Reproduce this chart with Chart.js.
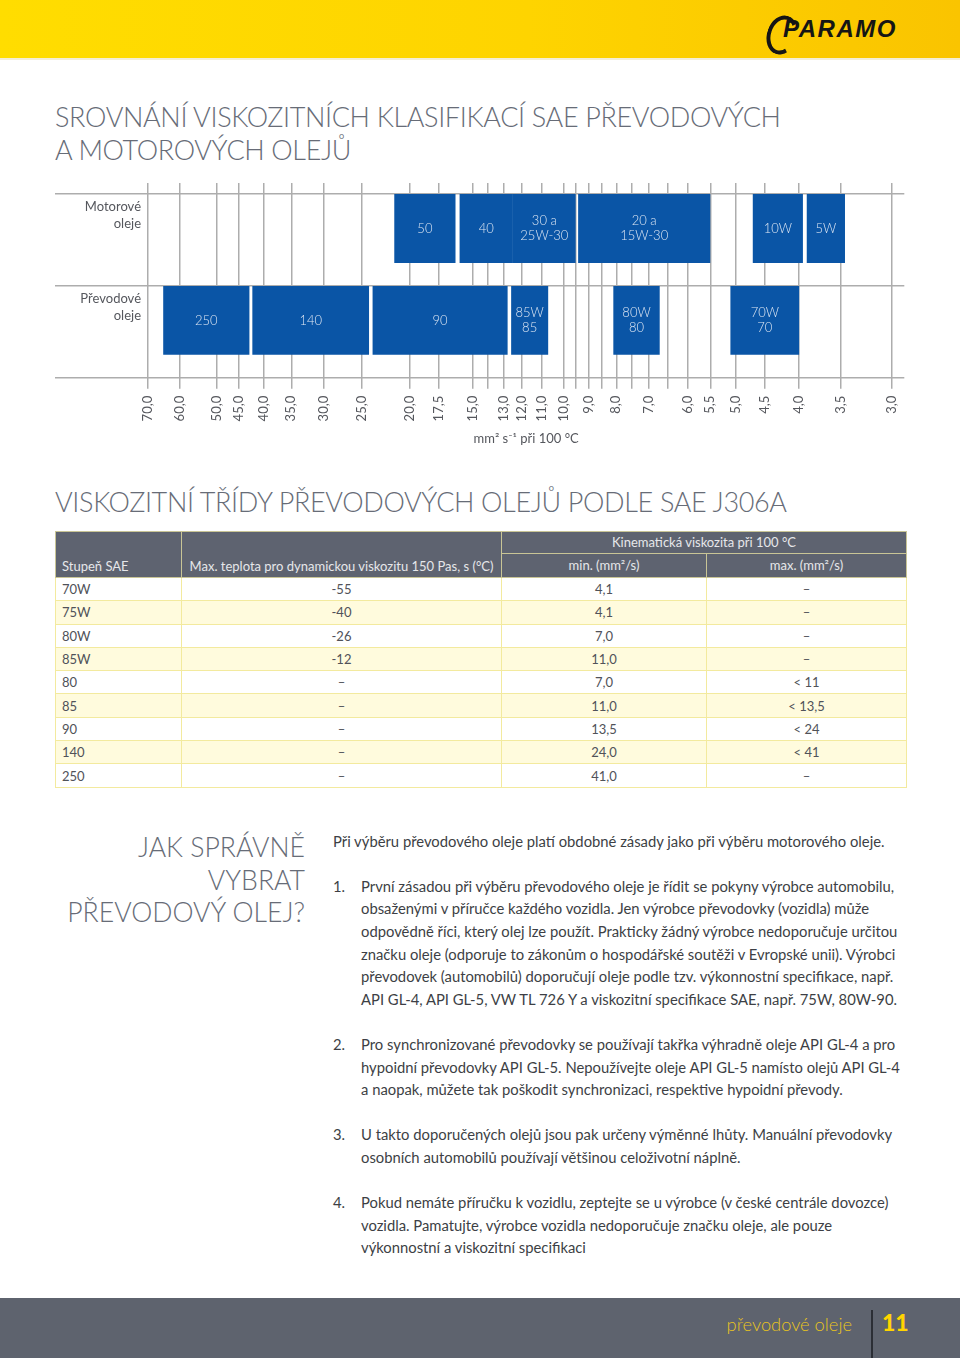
<!DOCTYPE html>
<html lang="cs">
<head>
<meta charset="utf-8">
<title>Srovnání viskozitních klasifikací SAE převodových a motorových olejů</title>
<script src="https://cdn.jsdelivr.net/npm/chart.js@4.4.1/dist/chart.umd.min.js"></script>
<style>
  html, body { margin: 0; padding: 0; }
  body { width: 960px; height: 1358px; position: relative; overflow: hidden; background: #fff; font-family: Lato, "Open Sans", sans-serif; color: #45474d; }
  .band { position: absolute; left: 0; top: 0; width: 960px; height: 58px; background: linear-gradient(90deg, #ffdd00 0%, #fed400 55%, #fac400 100%); border-bottom: 2px solid #f3eed8; }
  .logo-ring { position: absolute; left: 767px; top: 15px; width: 22px; height: 32px; border: 4px solid #151515; border-right-color: transparent; border-radius: 50%; transform: rotate(18deg); }
  .logo { position: absolute; left: 783px; top: 14px; font: italic 900 24px/30px "Liberation Sans", Arial, sans-serif; letter-spacing: 1.5px; color: #151515; }
  .title { position: absolute; left: 55px; margin: 0; font: 300 27px/33px Lato, sans-serif; letter-spacing: -0.35px; color: #676c77; white-space: nowrap; }
  #chartBox { position: absolute; left: 55px; top: 180px; width: 860px; height: 269px; }
  table.sae { position: absolute; left: 55px; top: 531px; width: 851px; border-collapse: collapse; table-layout: fixed; font: 13px Lato, sans-serif; color: #505259; border: 1px solid #f1e68e; }
  table.sae th { background: #5e6370; color: #e6e7ea; font-weight: 400; padding: 0; text-align: center; border: 1px solid #c9c596; }
  table.sae thead tr.r1 th { height: 21px; line-height: 21px; }
  table.sae thead tr.r2 th { height: 23px; line-height: 23px; }
  table.sae th[rowspan] { vertical-align: bottom; line-height: 23px; }
  table.sae .l { text-align: left; padding-left: 6px; }
  table.sae td { height: 22.3px; line-height: 22px; padding: 0; text-align: center; border: 1px solid #f3ea9e; }
  table.sae tbody tr:nth-child(even) td { background: #fffbdd; }
  .ask { position: absolute; left: 40px; width: 265px; top: 831px; margin: 0; text-align: right; font: 300 26.6px/32.5px Lato, sans-serif; color: #676c77; }
  .txt { position: absolute; left: 333px; top: 829.7px; font: 14.8px/22.6px Lato, sans-serif; color: #3d3f45; white-space: nowrap; }
  .txt p { margin: 0; }
  .txt .it { position: relative; margin-top: 22.6px; padding-left: 28px; }
  .txt .it .n { position: absolute; left: 0; top: 0; }
  .foot { position: absolute; left: 0; top: 1298px; width: 960px; height: 60px; background: #5e636e; }
  .foot .sec { position: absolute; right: 108px; top: 12px; font: 300 18.3px/28px Lato, sans-serif; color: #e8c320; }
  .foot .bar { position: absolute; left: 871px; top: 12px; width: 2px; height: 48px; background: #2b2e35; }
  .foot .pg { position: absolute; left: 882px; top: 9px; font: 900 23px/30px Lato, sans-serif; color: #ffd400; }
</style>
</head>
<body>
<div class="band"></div>
<div class="logo-ring"></div>
<div class="logo">PARAMO</div>

<h1 class="title" style="top:100px">SROVNÁNÍ VISKOZITNÍCH KLASIFIKACÍ SAE PŘEVODOVÝCH<br>A MOTOROVÝCH OLEJŮ</h1>

<div id="chartBox"><canvas id="saeChart"></canvas></div>

<h2 class="title" style="top:485px">VISKOZITNÍ TŘÍDY PŘEVODOVÝCH OLEJŮ PODLE SAE J306A</h2>

<table class="sae">
  <colgroup><col style="width:126px"><col style="width:320px"><col style="width:205px"><col style="width:200px"></colgroup>
  <thead>
    <tr class="r1"><th rowspan="2" class="l">Stupeň SAE</th><th rowspan="2">Max. teplota pro dynamickou viskozitu 150 Pas, s (°C)</th><th colspan="2">Kinematická viskozita při 100 °C</th></tr>
    <tr class="r2"><th>min. (mm²/s)</th><th>max. (mm²/s)</th></tr>
  </thead>
  <tbody>
    <tr><td class="l">70W</td><td>-55</td><td>4,1</td><td>–</td></tr>
    <tr><td class="l">75W</td><td>-40</td><td>4,1</td><td>–</td></tr>
    <tr><td class="l">80W</td><td>-26</td><td>7,0</td><td>–</td></tr>
    <tr><td class="l">85W</td><td>-12</td><td>11,0</td><td>–</td></tr>
    <tr><td class="l">80</td><td>–</td><td>7,0</td><td>&lt; 11</td></tr>
    <tr><td class="l">85</td><td>–</td><td>11,0</td><td>&lt; 13,5</td></tr>
    <tr><td class="l">90</td><td>–</td><td>13,5</td><td>&lt; 24</td></tr>
    <tr><td class="l">140</td><td>–</td><td>24,0</td><td>&lt; 41</td></tr>
    <tr><td class="l">250</td><td>–</td><td>41,0</td><td>–</td></tr>
  </tbody>
</table>

<h3 class="ask">JAK SPRÁVNĚ<br>VYBRAT<br>PŘEVODOVÝ OLEJ?</h3>

<div class="txt">
  <p>Při výběru převodového oleje platí obdobné zásady jako při výběru motorového oleje.</p>
  <div class="it"><span class="n">1.</span>První zásadou při výběru převodového oleje je řídit se pokyny výrobce automobilu,<br>obsaženými v příručce každého vozidla. Jen výrobce převodovky (vozidla) může<br>odpovědně říci, který olej lze použít. Prakticky žádný výrobce nedoporučuje určitou<br>značku oleje (odporuje to zákonům o hospodářské soutěži v Evropské unii). Výrobci<br>převodovek (automobilů) doporučují oleje podle tzv. výkonnostní specifikace, např.<br>API GL-4, API GL-5, VW TL 726 Y a viskozitní specifikace SAE, např. 75W, 80W-90.</div>
  <div class="it"><span class="n">2.</span>Pro synchronizované převodovky se používají takřka výhradně oleje API GL-4 a pro<br>hypoidní převodovky API GL-5. Nepoužívejte oleje API GL-5 namísto olejů API GL-4<br>a naopak, můžete tak poškodit synchronizaci, respektive hypoidní převody.</div>
  <div class="it"><span class="n">3.</span>U takto doporučených olejů jsou pak určeny výměnné lhůty. Manuální převodovky<br>osobních automobilů používají většinou celoživotní náplně.</div>
  <div class="it"><span class="n">4.</span>Pokud nemáte příručku k vozidlu, zeptejte se u výrobce (v české centrále dovozce)<br>vozidla. Pamatujte, výrobce vozidla nedoporučuje značku oleje, ale pouze<br>výkonnostní a viskozitní specifikaci</div>
</div>

<div class="foot">
  <div class="sec">převodové oleje</div>
  <div class="bar"></div>
  <div class="pg">11</div>
</div>

<script>
// viscosity axis (mm2/s at 100 °C), drawn high -> low like the printed chart
const tickValues = [70, 60, 50, 45, 40, 35, 30, 25, 20, 17.5, 15, 14, 13, 12, 11, 10, 9.5, 9, 8.5, 8, 7.5, 7, 6.5, 6, 5.5, 5, 4.5, 4, 3.5, 3];
const tickLabels = ['70,0', '60,0', '50,0', '45,0', '40,0', '35,0', '30,0', '25,0', '20,0', '17,5', '15,0', '', '13,0', '12,0', '11,0',
  '10,0', '', '9,0', '', '8,0', '', '7,0', '', '6,0', '5,5', '5,0', '4,5', '4,0', '3,5', '3,0'];

const rowLabels = [['Motorové', 'oleje'], ['Převodové', 'oleje']];

const engineGrades = ['50', '40', '30 a\n25W-30', '20 a\n15W-30', '10W', '5W'];
const engineFrom = [21.5, 15.9, 12.5, 9.4, 4.7, 3.9];
const engineTo = [16.2, 12.5, 9.5, 5.5, 3.95, 3.45];

const gearGrades = ['250', '140', '90', '85W\n85', '80W\n80', '70W\n70'];
const gearFrom = [65, 42.2, 23.8, 12.6, 8.1, 5.1];
const gearTo = [42.8, 24.2, 12.8, 10.7, 6.7, 4.0];

// the printed axis is roughly logarithmic around an offset
const toAxis = v => -Math.log(v - 1.3);

const barShare = 0.75;   // bar takes the top 3/4 of its row
const gridColor = '#adadad';
const labelFont = { family: 'Lato', size: 13 };

function bars(from, to, row) {
  return from.map((v, i) => ({ x: [toAxis(v), toAxis(to[i])], y: row }));
}

const barText = {
  id: 'barText',
  afterDatasetsDraw(chart) {
    const ctx = chart.ctx;
    ctx.save();
    ctx.fillStyle = '#dde6f3';
    ctx.font = '300 13px Lato';
    ctx.textAlign = 'center';
    ctx.textBaseline = 'middle';
    chart.data.datasets.forEach((ds, d) => {
      chart.getDatasetMeta(d).data.forEach((bar, i) => {
        const lines = ds.grades[i].split('\n');
        const cx = (bar.x + bar.base) / 2;
        lines.forEach((line, k) => {
          ctx.fillText(line, cx, bar.y + (k - (lines.length - 1) / 2) * 15.5);
        });
      });
    });
    ctx.restore();
  }
};

new Chart(document.getElementById('saeChart'), {
  type: 'bar',
  data: {
    datasets: [
      { label: 'Motorové oleje', grades: engineGrades, data: bars(engineFrom, engineTo, 0) },
      { label: 'Převodové oleje', grades: gearGrades, data: bars(gearFrom, gearTo, 1) }
    ]
  },
  options: {
    indexAxis: 'y',
    responsive: true,
    maintainAspectRatio: false,
    animation: false,
    grouped: false,
    backgroundColor: '#0a55a6',
    borderWidth: 0,
    barPercentage: barShare,
    categoryPercentage: 1,
    layout: { padding: { top: 3, right: 10, left: 0, bottom: 0 } },
    plugins: {
      legend: { display: false },
      tooltip: { enabled: false }
    },
    scales: {
      x: {
        type: 'linear',
        min: toAxis(70),
        max: toAxis(3) + 0.06,
        afterBuildTicks: s => { s.ticks = tickValues.map(v => ({ value: toAxis(v) })); },
        ticks: {
          autoSkip: false,
          minRotation: 90,
          maxRotation: 90,
          padding: 7,
          color: '#55575d',
          font: labelFont,
          callback: (v, i) => tickLabels[i]
        },
        grid: { color: gridColor, lineWidth: 1.5, drawTicks: true, tickLength: 11 },
        border: { display: false },
        title: {
          display: true,
          text: 'mm² s⁻¹ při 100 °C',
          color: '#55575d',
          font: labelFont,
          padding: { top: 3, bottom: 2 }
        }
      },
      y: {
        type: 'linear',
        reverse: true,
        offset: false,
        min: -barShare / 2 - 0.12,
        max: rowLabels.length - barShare / 2,
        afterBuildTicks: s => {
          s.ticks = [0, 1, 2].map(i => ({ value: i - barShare / 2 }));
        },
        afterFit: s => {
          s.width = 93;
          s.paddingTop = 0;
          s.paddingBottom = 0;
        },
        ticks: {
          padding: -86,
          labelOffset: 21.5,
          color: '#55575d',
          font: { family: 'Lato', size: 13, lineHeight: 1.3 },
          callback: (v, i) => rowLabels[i] || ''
        },
        grid: { offset: false, color: gridColor, lineWidth: 1.5, drawTicks: true, tickLength: 93 },
        border: { display: false }
      }
    }
  },
  plugins: [barText]
});
</script>
</body>
</html>
